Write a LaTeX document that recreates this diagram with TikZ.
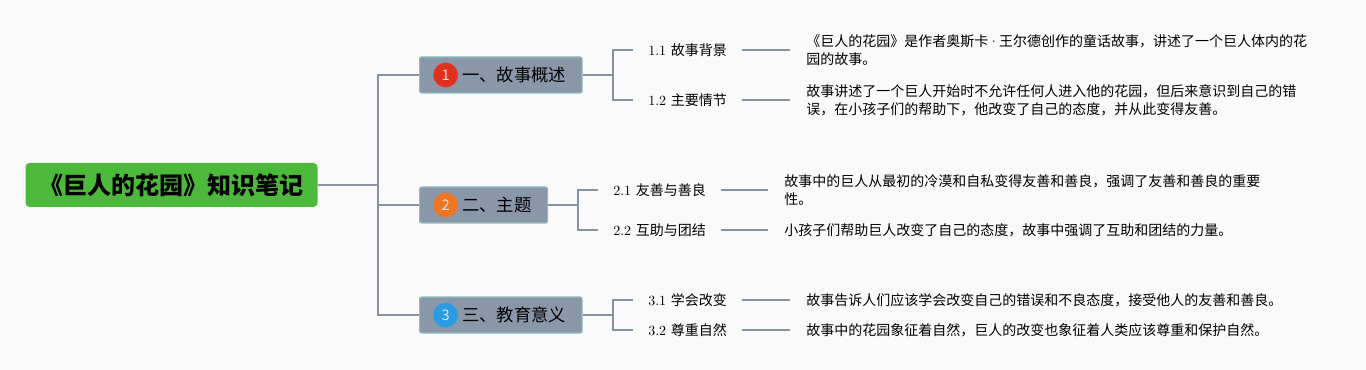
\documentclass[tikz,border=0pt]{standalone}
\usepackage{fontspec}
\newfontfamily\cjk{Noto Sans CJK SC}
\usepackage{xcolor}
\usetikzlibrary{positioning,calc}
\definecolor{rootgreen}{HTML}{4DB93B}
\definecolor{topicfill}{HTML}{8A97A8}
\definecolor{topicedge}{HTML}{8DBDB8}
\definecolor{linkgray}{HTML}{8792A2}
\definecolor{badgered}{HTML}{E0301E}
\definecolor{badgeorange}{HTML}{EE7622}
\definecolor{badgeblue}{HTML}{2A9DE2}
\definecolor{bgcolor}{HTML}{FAFAFA}

\begin{document}
\begin{tikzpicture}[
  x=0.75pt, y=-0.75pt,
  root/.style={
    fill=rootgreen, rounded corners=3pt, minimum width=219pt,
    minimum height=33pt, font=\cjk\bfseries\fontsize{18}{21}\selectfont
  },
  topic/.style={
    fill=topicfill, draw=topicedge, line width=0.8pt, rounded corners=1.5pt,
    minimum height=27pt, anchor=west, inner xsep=12pt,
    font=\cjk\fontsize{13}{16}\selectfont
  },
  badge/.style={
    circle, minimum size=18.5pt, inner sep=0pt, text=white!80!gray,
    font=\cjk\fontsize{11}{12}\selectfont
  },
  sub/.style={anchor=west, inner xsep=11.25pt, font=\fontsize{10.5}{13}\selectfont},
  desc/.style={
    anchor=west, inner xsep=12pt, align=left,
    font=\cjk\fontsize{10.5}{13.5}\selectfont
  },
  link/.style={draw=linkgray, line width=1.2pt}
]
\fill[bgcolor] (0,0) rectangle (1366,370);
\useasboundingbox (0,0) rectangle (1366,370);

% Thema
\node[root] (root) at (171.5,185) {《巨人的花园》知识笔记};
\coordinate (trunk) at (378,185);

% Hauptaeste
\node[topic] (t1) at (419,75) {\hspace*{20pt}一、故事概述};
\node[topic] (t2) at (419,205) {\hspace*{20pt}二、主题};
\node[topic] (t3) at (419,315) {\hspace*{20pt}三、教育意义};
\node[badge, fill=badgered] (n1) at ([xshift=20pt]t1.west) {1};
\node[badge, fill=badgeorange] (n2) at ([xshift=20pt]t2.west) {2};
\node[badge, fill=badgeblue] (n3) at ([xshift=20pt]t3.west) {3};

\draw[link] (root.east) -- (trunk);
\draw[link] (trunk) |- (t1.west);
\draw[link] (trunk) |- (t2.west);
\draw[link] (trunk) |- (t3.west);

% Unterpunkte 1
\coordinate (b1) at (613,75);
\node[sub] (s11) at (633,50) {1.1 {\cjk 故事背景}};
\node[sub] (s12) at (633,100) {1.2 {\cjk 主要情节}};
\node[desc] (d11) at (790,50) {《巨人的花园》是作者奥斯卡{\rmfamily ·}王尔德创作的童话故事，讲述了一个巨人体内的花\\园的故事。};
\node[desc] (d12) at (790,100) {故事讲述了一个巨人开始时不允许任何人进入他的花园，但后来意识到自己的错\\误，在小孩子们的帮助下，他改变了自己的态度，并从此变得友善。};

% Unterpunkte 2
\coordinate (b2) at (578,205);
\node[sub] (s21) at (598,190) {2.1 {\cjk 友善与善良}};
\node[sub] (s22) at (598,230) {2.2 {\cjk 互助与团结}};
\node[desc] (d21) at (768,190) {故事中的巨人从最初的冷漠和自私变得友善和善良，强调了友善和善良的重要\\性。};
\node[desc] (d22) at (768,230) {小孩子们帮助巨人改变了自己的态度，故事中强调了互助和团结的力量。};

% Unterpunkte 3
\coordinate (b3) at (613,315);
\node[sub] (s31) at (633,300) {3.1 {\cjk 学会改变}};
\node[sub] (s32) at (633,330) {3.2 {\cjk 尊重自然}};
\node[desc] (d31) at (790,300) {故事告诉人们应该学会改变自己的错误和不良态度，接受他人的友善和善良。};
\node[desc] (d32) at (790,330) {故事中的花园象征着自然，巨人的改变也象征着人类应该尊重和保护自然。};

\foreach \t/\b/\s in {t1/b1/1, t2/b2/2, t3/b3/3} {
  \draw[link] (\t.east) -- (\b);
  \draw[link] (\b) |- (s\s1.west);
  \draw[link] (\b) |- (s\s2.west);
  \draw[link] (s\s1.east) -- (d\s1.west);
  \draw[link] (s\s2.east) -- (d\s2.west);
}
\end{tikzpicture}
\end{document}
